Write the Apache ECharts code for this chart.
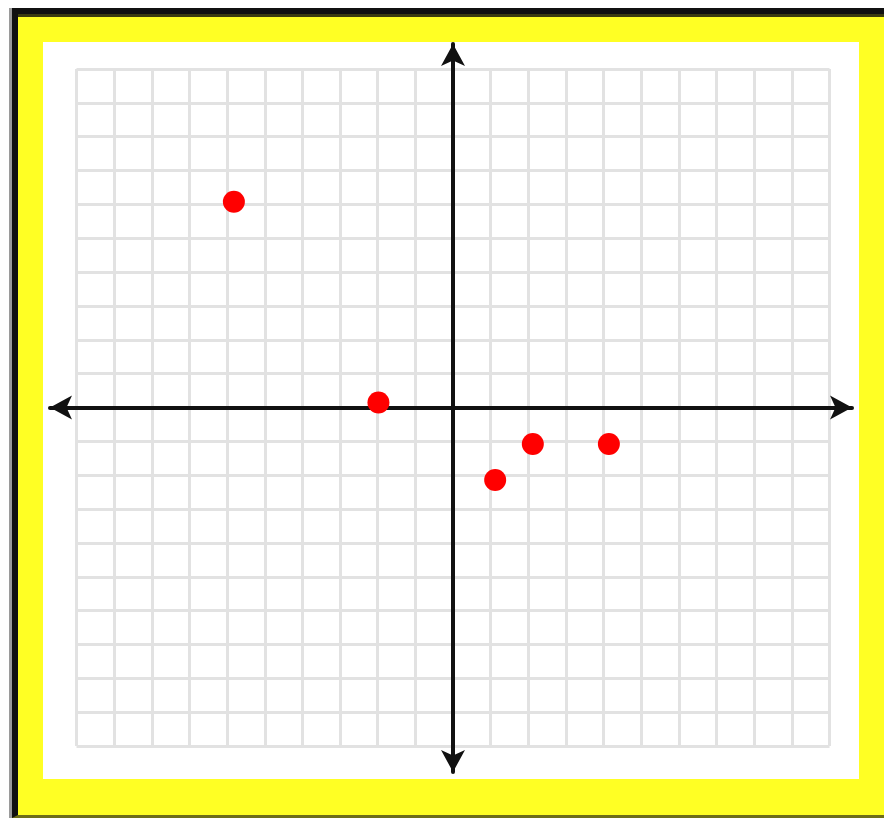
<!DOCTYPE html>
<html>
<head>
<meta charset="utf-8">
<script src="https://cdn.jsdelivr.net/npm/echarts@6/dist/echarts.min.js"></script>
<style>
  html, body { margin: 0; padding: 0; width: 884px; height: 818px; overflow: hidden; background: #fff; }
  #frame {
    position: absolute; left: 12px; top: 8px; width: 866px; height: 801px;
    border-left: 6px solid #111; border-top: 6px solid #111; border-bottom: 3px solid #6e6e18;
    box-shadow: -3px 0 0 #9a9a9a;
    background: #ffff24;
  }
  #frameTop { position: absolute; left: 18px; top: 14px; width: 866px; height: 3px; background: #3c3c10; }
  #paper { position: absolute; left: 43px; top: 42px; width: 816px; height: 737px; background: #fff; }
  #main { position: absolute; left: 0; top: 0; width: 884px; height: 818px; }
</style>
</head>
<body>
<div id="frame"></div>
<div id="frameTop"></div>
<div id="paper"></div>
<div id="main"></div>
<script>
// 坐标范围
var xRange = [-10, 10];
var yRange = [-10, 10];
// 红点
var pointX = [-5.82, -1.98, 2.12, 4.14, 1.12];
var pointY = [6.08, 0.15, -1.08, -1.08, -2.14];

var chart = echarts.init(document.getElementById('main'));

// grid for the squares
var g = { left: 76.5, right: 54.5, top: 69, bottom: 72 };
var W = 884, H = 818;
var pxPerX = (W - g.left - g.right) / (xRange[1] - xRange[0]);
var pxPerY = (H - g.top - g.bottom) / (yRange[1] - yRange[0]);
var x0 = g.left + (0 - xRange[0]) * pxPerX;
var y0 = g.top + (yRange[1] - 0) * pxPerY;

// axis line ends (arrow tips)
var ax = { left: 50, right: 32, top: 44, bottom: 46 };
var axXMin = (ax.left - x0) / pxPerX;
var axXMax = (W - ax.right - x0) / pxPerX;
var axYMax = (y0 - ax.top) / pxPerY;
var axYMin = (y0 - (H - ax.bottom)) / pxPerY;

var data = pointX.map(function (x, i) { return [x, pointY[i]]; });

var hidden = { show: false };
var arrowLine = {
    show: true,
    onZero: true,
    symbol: ['arrow', 'arrow'],
    symbolSize: [18, 22],
    lineStyle: { color: '#111', width: 4 }
};

var option = {
    animation: false,
    grid: [
        { left: g.left, right: g.right, top: g.top, bottom: g.bottom, containLabel: false },
        { left: ax.left, right: ax.right, top: ax.top, bottom: ax.bottom, containLabel: false }
    ],
    xAxis: [
        {
            gridIndex: 0, type: 'value', min: xRange[0], max: xRange[1], interval: 1,
            axisLine: hidden, axisTick: hidden, axisLabel: hidden,
            splitLine: { show: true, lineStyle: { color: '#e2e2e2', width: 3 } }
        },
        {
            gridIndex: 1, type: 'value', min: axXMin, max: axXMax, z: 1,
            axisLine: arrowLine, axisTick: hidden, axisLabel: hidden, splitLine: hidden
        }
    ],
    yAxis: [
        {
            gridIndex: 0, type: 'value', min: yRange[0], max: yRange[1], interval: 1,
            axisLine: hidden, axisTick: hidden, axisLabel: hidden,
            splitLine: { show: true, lineStyle: { color: '#e2e2e2', width: 3 } }
        },
        {
            gridIndex: 1, type: 'value', min: axYMin, max: axYMax, z: 1,
            axisLine: arrowLine, axisTick: hidden, axisLabel: hidden, splitLine: hidden
        }
    ],
    series: [
        {
            type: 'scatter',
            xAxisIndex: 0,
            yAxisIndex: 0,
            z: 5,
            symbolSize: 22,
            itemStyle: { color: '#ff0000', opacity: 1 },
            data: data
        }
    ]
};

chart.setOption(option);
</script>
</body>
</html>
